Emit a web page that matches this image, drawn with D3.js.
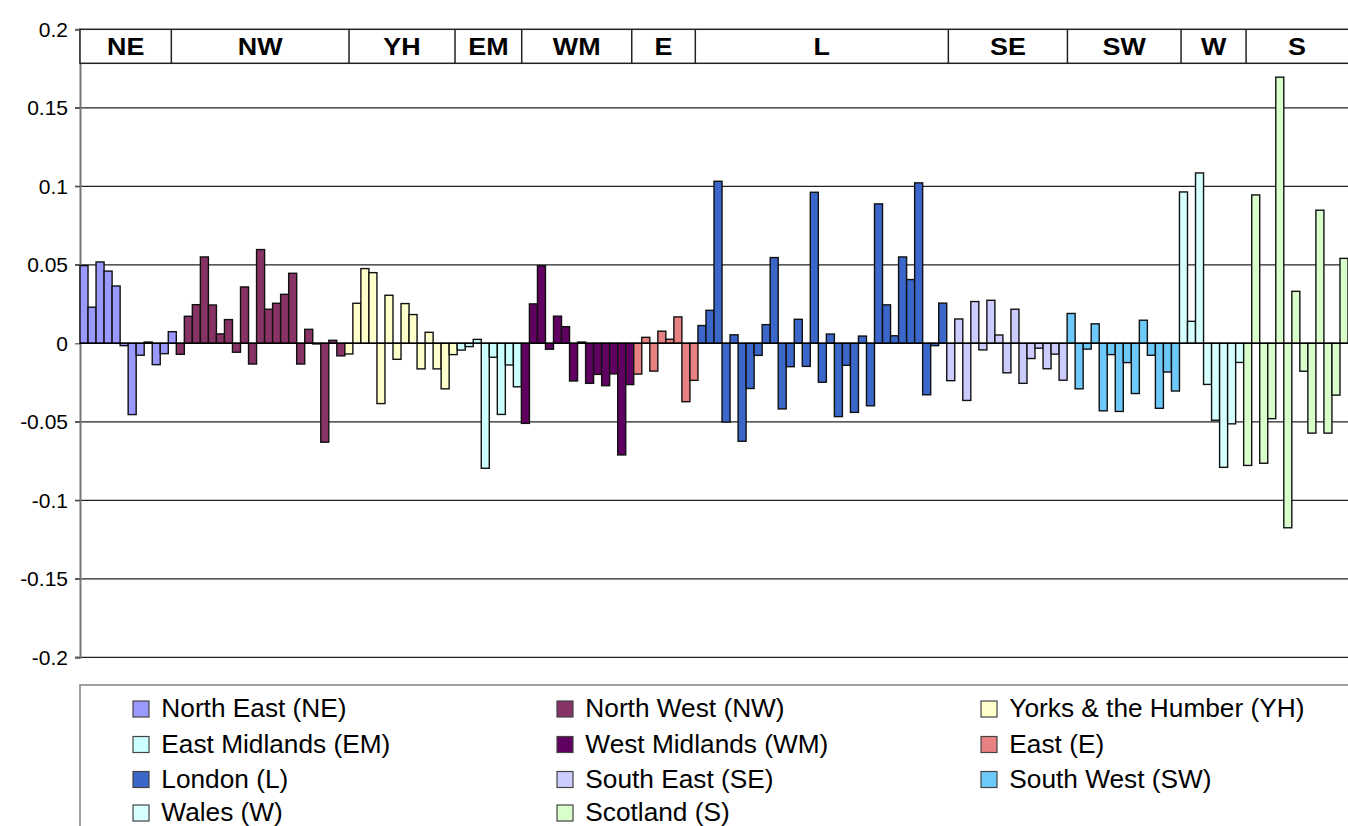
<!DOCTYPE html>
<html>
<head>
<meta charset="utf-8">
<script src="https://cdn.jsdelivr.net/npm/d3@7"></script>
<style>
  html, body { margin: 0; padding: 0; background: #fff; }
  svg { display: block; }
  text { font-family: "Liberation Sans", Arial, sans-serif; }
</style>
</head>
<body>
<svg id="chart" width="1348" height="826"></svg>
<script>
// ---------- DATA ----------
const regionCodes = ["NE", "NW", "YH", "EM", "WM", "E", "L", "SE", "SW", "W", "S"];
const regionNames = ["North East (NE)", "North West (NW)", "Yorks & the Humber (YH)",
  "East Midlands (EM)", "West Midlands (WM)", "East (E)", "London (L)",
  "South East (SE)", "South West (SW)", "Wales (W)", "Scotland (S)"];
const regionColors = ["#9999FF", "#883366", "#FFFFCC", "#CCFFFF", "#600060", "#E88282",
  "#3A67C9", "#CCCCFF", "#6DC9F9", "#D6FFFF", "#D9FDCB"];

const neValues = [0.0495, 0.023, 0.0518, 0.046, 0.0365, -0.0015, -0.0454, -0.0076, 0.0008, -0.0136, -0.0066, 0.0074];
const nwValues = [-0.007, 0.0172, 0.0246, 0.055, 0.0244, 0.006, 0.0151, -0.0057, 0.0359, -0.0132, 0.0597, 0.0217,
  0.0255, 0.0312, 0.0446, -0.0132, 0.0089, -0.0004, -0.063, 0.0019, -0.008];
const yhValues = [-0.0068, 0.0255, 0.0476, 0.045, -0.0384, 0.0306, -0.0102, 0.0253, 0.0183, -0.0163, 0.007,
  -0.0163, -0.029, -0.0072];
const emValues = [-0.0043, -0.0021, 0.0025, -0.0796, -0.0089, -0.0453, -0.0138, -0.0277];
const wmValues = [-0.051, 0.0251, 0.0494, -0.0038, 0.0173, 0.0106, -0.024, 0.0008, -0.0255, -0.0198, -0.027,
  -0.0195, -0.0711, -0.0263];
const eValues = [-0.0196, 0.0038, -0.0177, 0.0077, 0.0026, 0.0168, -0.0372, -0.0236];
const lValues = [0.0113, 0.021, 0.1032, -0.0502, 0.0054, -0.0624, -0.0288, -0.0077, 0.0119, 0.0546, -0.0418,
  -0.0149, 0.0153, -0.0147, 0.0962, -0.0248, 0.0059, -0.0467, -0.014, -0.044, 0.0046, -0.0398, 0.0888, 0.0245,
  0.0048, 0.055, 0.0406, 0.1022, -0.0328, -0.0015, 0.0256];
const seValues = [-0.0238, 0.0155, -0.0364, 0.0266, -0.0042, 0.0274, 0.0053, -0.0188, 0.0217, -0.0255, -0.0097,
  -0.0031, -0.0162, -0.0069, -0.0235];
const swValues = [0.019, -0.029, -0.0037, 0.0124, -0.043, -0.0072, -0.0434, -0.0123, -0.032, 0.0147, -0.0076,
  -0.0414, -0.0183, -0.0304];
const wValues = [0.0964, 0.014, 0.1085, -0.0262, -0.049, -0.079, -0.0513, -0.0122];
const sValues = [-0.0778, 0.0945, -0.0764, -0.048, 0.1695, -0.1175, 0.0331, -0.0178, -0.0572, 0.0848, -0.0572,
  -0.033, 0.0541];

const regionValues = [neValues, nwValues, yhValues, emValues, wmValues, eValues, lValues, seValues, swValues, wValues, sValues];

// header cell boundaries, in bar units (the header table is not aligned to the bars)
const headerBounds = [0, 11.38, 33.52, 46.73, 55.04, 68.75, 76.67, 108.2, 123.04, 137.2, 145.3, 158];

const yTicks = [0.2, 0.15, 0.1, 0.05, 0, -0.05, -0.1, -0.15, -0.2];
const yTickLabels = ["0.2", "0.15", "0.1", "0.05", "0", "-0.05", "-0.1", "-0.15", "-0.2"];

// ---------- BUILD ----------
(function () {
const bars = [];
regionValues.forEach((vals, r) => vals.forEach(v => bars.push({ region: r, value: v })));
bars.forEach((d, i) => d.idx = i);

const svg = d3.select("#chart");
const pLeft = 80, pRight = 1348, pTop = 29.3, pBottom = 657.3;

const x = d3.scaleBand().domain(d3.range(bars.length)).range([pLeft, pRight]).paddingInner(0).paddingOuter(0);
const xu = d3.scaleLinear().domain([0, bars.length]).range([pLeft, pRight]);
const y = d3.scaleLinear().domain([-0.2, 0.2]).range([pBottom, pTop]);

// gridlines
svg.append("g").selectAll("line").data(yTicks.filter(t => t !== 0.2 && t !== 0)).join("line")
  .attr("x1", pLeft - 5).attr("x2", pRight)
  .attr("y1", d => y(d)).attr("y2", d => y(d))
  .attr("stroke", "#222").attr("stroke-width", 1.2);

// y axis
const yAxis = d3.axisLeft(y).tickValues(yTicks).tickSize(5).tickPadding(7)
  .tickFormat((d, i) => yTickLabels[i]);
const ga = svg.append("g").attr("transform", `translate(${pLeft},0)`).call(yAxis);
ga.select(".domain").attr("stroke", "#777").attr("stroke-width", 2);
ga.selectAll(".tick line").attr("stroke", "#555").attr("stroke-width", 1.2);
ga.selectAll(".tick text").attr("font-size", 21).attr("fill", "#000")
  .attr("font-family", "'Liberation Sans', Arial, sans-serif");

// bars
svg.append("g").selectAll("rect").data(bars).join("rect")
  .attr("x", d => x(d.idx))
  .attr("width", x.bandwidth())
  .attr("y", d => y(Math.max(0, d.value)))
  .attr("height", d => Math.abs(y(d.value) - y(0)))
  .attr("fill", d => regionColors[d.region])
  .attr("stroke", "#111").attr("stroke-width", 1.4);

// zero line
svg.append("line").attr("x1", pLeft).attr("x2", pRight).attr("y1", y(0)).attr("y2", y(0))
  .attr("stroke", "#000").attr("stroke-width", 1.4);

// header table
const hdrTop = y(0.2), hdrBot = 63.3;
svg.append("rect").attr("x", pLeft).attr("y", hdrTop).attr("width", pRight - pLeft + 2).attr("height", hdrBot - hdrTop)
  .attr("fill", "#fff").attr("stroke", "#222").attr("stroke-width", 1.5);
svg.append("g").selectAll("line").data(headerBounds.slice(1, -1)).join("line")
  .attr("x1", d => xu(d)).attr("x2", d => xu(d)).attr("y1", hdrTop).attr("y2", hdrBot)
  .attr("stroke", "#222").attr("stroke-width", 1.5);
svg.append("g").selectAll("text").data(regionCodes).join("text")
  .attr("transform", (d, i) => `translate(${(xu(headerBounds[i]) + xu(headerBounds[i + 1])) / 2},55) scale(1.12,1)`)
  .attr("text-anchor", "middle")
  .attr("font-size", 24).attr("font-weight", "bold")
  .text(d => d);

// legend
const legend = svg.append("g");
legend.append("rect").attr("x", pLeft).attr("y", 685).attr("width", 1300).attr("height", 200)
  .attr("fill", "#fff").attr("stroke", "#808080").attr("stroke-width", 1.5);
const colX = [133, 557, 981];
const rowY = [709, 744.5, 779.5, 813];
const items = legend.selectAll("g.item").data(regionNames).join("g").attr("class", "item")
  .attr("transform", (d, i) => `translate(${colX[i % 3]},${rowY[Math.floor(i / 3)]})`);
items.append("rect").attr("x", 0).attr("y", -8).attr("width", 16).attr("height", 16)
  .attr("fill", (d, i) => regionColors[i]).attr("stroke", "#444").attr("stroke-width", 1.2);
items.append("text").attr("x", 27).attr("y", 8)
  .attr("transform", "scale(1.05,1)")
  .attr("font-size", 25).text(d => d);
})();
</script>
</body>
</html>
